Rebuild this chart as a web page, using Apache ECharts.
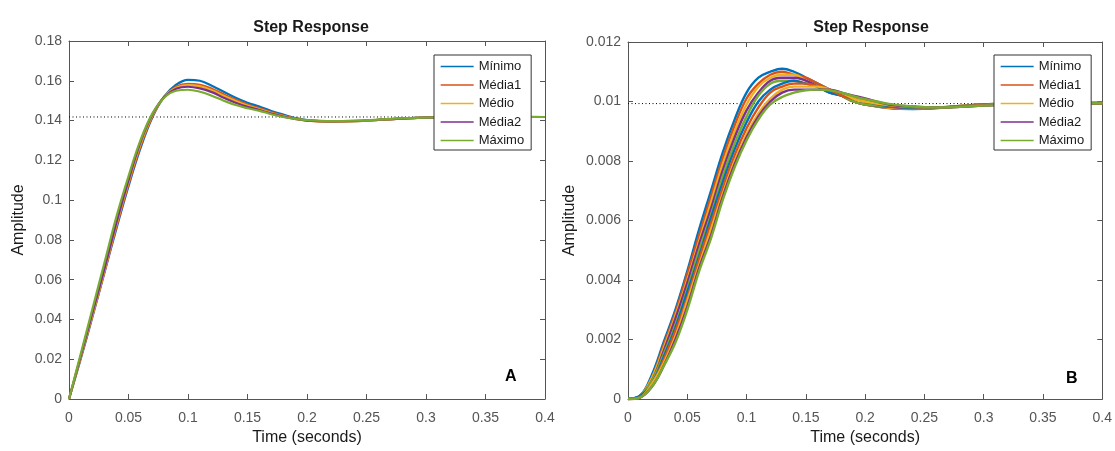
<!DOCTYPE html>
<html>
<head>
<meta charset="utf-8">
<title>Step Response</title>
<script src="https://cdn.jsdelivr.net/npm/echarts@6/dist/echarts.min.js"></script>
<style>
html,body{margin:0;padding:0;background:#fff;}
#main{width:1115px;height:451px;}
</style>
</head>
<body>
<div id="main"></div>
<script>
// time samples (s) shared by every curve
var times = [0,0.01,0.02,0.03,0.04,0.05,0.06,0.07,0.08,0.09,0.1,0.11,0.12,0.13,0.14,0.15,0.16,0.17,0.18,0.19,0.2,0.22,0.24,0.26,0.28,0.3,0.35,0.4];
var names = ['Mínimo','Média1','Médio','Média2','Máximo'];
var colors = ['#0072BD','#D95319','#EDB120','#7E2F8E','#77AC30'];

// panel A
var minimoA = [0,0.0205,0.042,0.064,0.086,0.107,0.126,0.1415,0.152,0.158,0.1605,0.160,0.1575,0.1545,0.1515,0.149,0.147,0.1448,0.143,0.1413,0.1402,0.1395,0.1397,0.1403,0.141,0.1415,0.1419,0.1418];
var media1A = [0,0.021,0.0425,0.0645,0.087,0.108,0.127,0.142,0.152,0.157,0.1585,0.158,0.156,0.1532,0.1505,0.148,0.1462,0.1442,0.1425,0.141,0.140,0.1395,0.1397,0.1403,0.141,0.1415,0.1419,0.1418];
var medioA = [0,0.0215,0.043,0.065,0.088,0.109,0.128,0.1425,0.152,0.1565,0.1578,0.1572,0.1552,0.1525,0.1498,0.1475,0.1457,0.1438,0.1422,0.1409,0.140,0.1395,0.1397,0.1403,0.141,0.1415,0.1419,0.1418];
var media2A = [0,0.022,0.044,0.066,0.089,0.110,0.129,0.143,0.1518,0.156,0.157,0.1562,0.1543,0.1515,0.149,0.1469,0.1453,0.1435,0.142,0.1408,0.140,0.1396,0.1398,0.1404,0.141,0.1415,0.1418,0.1418];
var maximoA = [0,0.023,0.046,0.069,0.092,0.112,0.130,0.1435,0.1515,0.155,0.1555,0.1545,0.1525,0.150,0.1478,0.1462,0.1449,0.1432,0.1418,0.1408,0.1402,0.1397,0.1399,0.1405,0.1411,0.1415,0.1418,0.1418];
var steadyA = 0.1418;

// panel B (fastest to slowest)
var b1 = [0,0.0001,0.0008,0.0019,0.0030,0.0043,0.0057,0.0070,0.0083,0.0094,0.0103,0.0108,0.0110,0.0111,0.0110,0.0108,0.0106,0.0104,0.0102,0.0100,0.0099,0.00978,0.00975,0.00978,0.00985,0.0099,0.00995,0.00995];
var b2 = [0,0.0001,0.0007,0.0018,0.0029,0.0042,0.0055,0.0068,0.0081,0.0092,0.0101,0.0106,0.0109,0.0110,0.0109,0.0108,0.0106,0.0104,0.0102,0.0100,0.0099,0.00979,0.00976,0.00978,0.00985,0.0099,0.00995,0.00995];
var b3 = [0,0.0001,0.0007,0.0017,0.0028,0.0040,0.0053,0.0066,0.0079,0.0090,0.0099,0.0105,0.0108,0.0109,0.0109,0.0107,0.0105,0.0104,0.0102,0.0100,0.0099,0.00980,0.00977,0.00979,0.00985,0.0099,0.00994,0.00995];
var b4 = [0,0.0001,0.0006,0.0016,0.0027,0.0039,0.0052,0.0064,0.0077,0.0088,0.0097,0.0103,0.0107,0.0108,0.0108,0.0107,0.0105,0.0103,0.0102,0.0100,0.0099,0.00982,0.00978,0.00979,0.00984,0.0099,0.00994,0.00995];
var b5 = [0,0.0001,0.0006,0.0015,0.0025,0.0037,0.0050,0.0062,0.0075,0.0086,0.0095,0.0102,0.0106,0.0107,0.0107,0.0106,0.0105,0.0103,0.0102,0.0100,0.0099,0.00984,0.00979,0.00979,0.00984,0.00989,0.00994,0.00995];
var b6 = [0,0.0001,0.0005,0.0014,0.0024,0.0036,0.0048,0.0061,0.0073,0.0084,0.0093,0.0100,0.0104,0.0106,0.0107,0.0106,0.0105,0.0103,0.0102,0.0101,0.0100,0.00985,0.00980,0.00980,0.00983,0.00988,0.00993,0.00994];
var b7 = [0,0.00005,0.0005,0.0013,0.0023,0.0034,0.0047,0.0059,0.0071,0.0082,0.0091,0.0098,0.0103,0.0105,0.0106,0.0106,0.0105,0.0104,0.0102,0.0101,0.0100,0.00987,0.00981,0.00980,0.00983,0.00988,0.00993,0.00994];
var b8 = [0,0.00005,0.0005,0.0012,0.0021,0.0033,0.0045,0.0057,0.0069,0.0080,0.0089,0.0096,0.0101,0.0104,0.0105,0.0105,0.0105,0.0104,0.0103,0.0101,0.0100,0.00988,0.00982,0.00980,0.00982,0.00987,0.00993,0.00994];
var b9 = [0,0.00005,0.0004,0.0011,0.0020,0.0031,0.0044,0.0055,0.0068,0.0079,0.0088,0.0095,0.0100,0.0103,0.0104,0.0104,0.0104,0.0104,0.0103,0.0102,0.0101,0.00990,0.00983,0.00980,0.00982,0.00986,0.00993,0.00994];
var b10 = [0,0.00005,0.0004,0.0011,0.0019,0.0030,0.0043,0.0054,0.0067,0.0078,0.0087,0.0094,0.0099,0.01015,0.0103,0.01038,0.0104,0.01038,0.0103,0.01018,0.01008,0.00992,0.00983,0.00980,0.00982,0.00986,0.00993,0.00994];
var steadyB = 0.00993;

var font = "'Liberation Sans', Arial, sans-serif";
var myChart = echarts.init(document.getElementById('main'));

function pairs(vals)
{
	return times.map(function(t, i){ return [t, vals[i]]; });
}
function curve(name, vals, color, axis, width)
{
	return {
		name: name,
		type: 'line',
		xAxisIndex: axis,
		yAxisIndex: axis,
		data: pairs(vals),
		smooth: 0.4,
		symbol: 'none',
		color: color,
		lineStyle: {width: width, color: color}
	};
}
function dotted(value, axis)
{
	return {
		name: 'steady' + axis,
		type: 'line',
		xAxisIndex: axis,
		yAxisIndex: axis,
		data: [[0, value], [0.4, value]],
		symbol: 'none',
		silent: true,
		lineStyle: {width: 1, color: '#000', type: [1, 2.5]}
	};
}
function fmt(v)
{
	return String(+v.toFixed(6));
}
function xAx(grid, pos, showLabel)
{
	return {
		type: 'value', gridIndex: grid, position: pos,
		min: 0, max: 0.4, interval: 0.05,
		name: showLabel ? 'Time (seconds)' : '',
		nameLocation: 'middle', nameGap: 31,
		nameTextStyle: {fontFamily: font, fontSize: 16, color: '#1a1a1a'},
		axisLine: {show: true, onZero: false, lineStyle: {color: '#555', width: 1}},
		axisTick: {show: true, inside: true, length: 5, lineStyle: {color: '#555'}},
		axisLabel: {show: showLabel, margin: 12, fontFamily: font, fontSize: 14, color: '#555', formatter: fmt},
		splitLine: {show: false}
	};
}
function yAx(grid, pos, showLabel, max, step, gap)
{
	return {
		type: 'value', gridIndex: grid, position: pos,
		min: 0, max: max, interval: step,
		name: showLabel ? 'Amplitude' : '',
		nameLocation: 'middle', nameGap: gap,
		nameTextStyle: {fontFamily: font, fontSize: 16, color: '#1a1a1a'},
		axisLine: {show: true, onZero: false, lineStyle: {color: '#555', width: 1}},
		axisTick: {show: true, inside: true, length: 5, lineStyle: {color: '#555'}},
		axisLabel: {show: showLabel, margin: 7, fontFamily: font, fontSize: 14, color: '#555', formatter: fmt},
		splitLine: {show: false}
	};
}
function legendAt(left)
{
	return {
		orient: 'vertical',
		left: left, top: 55,
		data: names,
		backgroundColor: '#fff',
		borderColor: '#333', borderWidth: 1, borderRadius: 0,
		padding: [5, 7, 3, 6],
		itemWidth: 33, itemHeight: 13, itemGap: 5.5,
		textStyle: {fontFamily: font, fontSize: 13, color: '#1a1a1a'},
		// line only, no marker on the sample
		itemStyle: {color: 'transparent', borderWidth: 0, opacity: 0},
		lineStyle: {width: 1.3},
		selectedMode: false
	};
}

var seriesA = [minimoA, media1A, medioA, media2A, maximoA];
var seriesB = [b1, b2, b3, b4, b5, b6, b7, b8, b9, b10];
var series = [dotted(steadyA, 0), dotted(steadyB, 2)];
seriesA.forEach(function(vals, i){
	series.push(curve(names[i], vals, colors[i], 0, 2.2));
});
seriesB.forEach(function(vals, i){
	var nm = i < 5 ? names[i] : 'B' + (i + 1);
	series.push(curve(nm, vals, colors[i % 5], 2, 2.4));
});
// extra top/right axes only carry the box ticks
var option = {
	animation: false,
	backgroundColor: '#fff',
	title: [
		{text: 'Step Response', left: 306, top: 15, textAlign: 'center',
			textStyle: {fontFamily: font, fontSize: 16, fontWeight: 'bold', color: '#1a1a1a'}},
		{text: 'Step Response', left: 866, top: 15, textAlign: 'center',
			textStyle: {fontFamily: font, fontSize: 16, fontWeight: 'bold', color: '#1a1a1a'}}
	],
	legend: [legendAt(434), legendAt(994)],
	grid: [
		{left: 69, right: 570, top: 41, bottom: 46},
		{left: 628, right: 11, top: 42, bottom: 46}
	],
	xAxis: [xAx(0, 'bottom', true), xAx(0, 'top', false), xAx(1, 'bottom', true), xAx(1, 'top', false)],
	yAxis: [
		yAx(0, 'left', true, 0.18, 0.02, 42),
		yAx(0, 'right', false, 0.18, 0.02, 0),
		yAx(1, 'left', true, 0.012, 0.002, 50),
		yAx(1, 'right', false, 0.012, 0.002, 0)
	],
	graphic: [
		{type: 'text', left: 505, top: 369, style: {text: 'A', font: 'bold 16px ' + font, fill: '#000'}},
		{type: 'text', left: 1066, top: 371, style: {text: 'B', font: 'bold 16px ' + font, fill: '#000'}}
	],
	series: series
};
myChart.setOption(option);
</script>
</body>
</html>
